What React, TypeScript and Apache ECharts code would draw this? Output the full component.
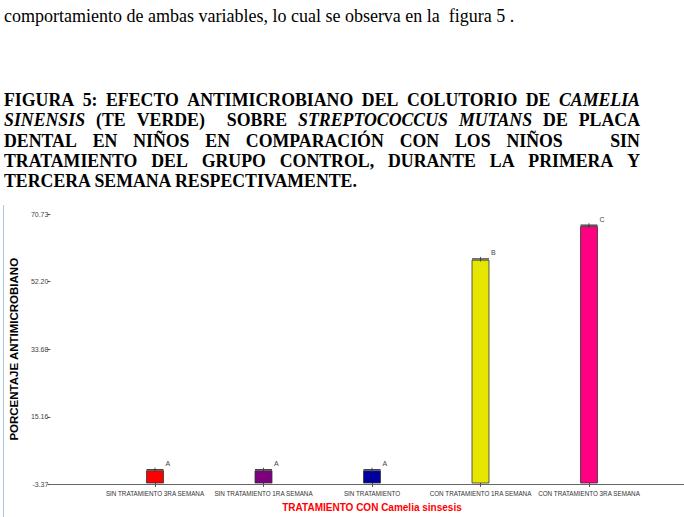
import React, { useEffect, useRef } from "react";
import * as echarts from "echarts";

const categories = [
  "SIN TRATAMIENTO 3RA SEMANA",
  "SIN TRATAMIENTO 1RA SEMANA",
  "SIN TRATAMIENTO",
  "CON TRATAMIENTO 1RA SEMANA",
  "CON TRATAMIENTO 3RA SEMANA",
];
const values = [0, 0, 0, 58.0, 67.3];
const errors = [0.3, 0.3, 0.3, 0.35, 0.35];
const letters = ["A", "A", "A", "B", "C"];
const barColors = ["#FF0000", "#7D007D", "#00009E", "#E6E600", "#FF0080"];
const yTickLabels = ["-3.37", "15.16", "33.68", "52.20", "70.73"];
const yMin = -3.37;
const yMax = 70.73;
const yInterval = (yMax - yMin) / 4;

type Seg = { t: string; i?: boolean };
const headingLines: Seg[][] = [
  [
    { t: "FIGURA" }, { t: "5:" }, { t: "EFECTO" }, { t: "ANTIMICROBIANO" }, { t: "DEL" },
    { t: "COLUTORIO" }, { t: "DE" }, { t: "CAMELIA", i: true },
  ],
  [
    { t: "SINENSIS", i: true }, { t: "(TE" }, { t: "VERDE)" }, { t: "" }, { t: "SOBRE" },
    { t: "STREPTOCOCCUS", i: true }, { t: "MUTANS", i: true }, { t: "DE" }, { t: "PLACA" },
  ],
  [
    { t: "DENTAL" }, { t: "EN" }, { t: "NIÑOS" }, { t: "EN" }, { t: "COMPARACIÓN" },
    { t: "CON" }, { t: "LOS" }, { t: "NIÑOS" }, { t: "" }, { t: "" }, { t: "SIN" },
  ],
  [
    { t: "TRATAMIENTO" }, { t: "DEL" }, { t: "GRUPO" }, { t: "CONTROL," }, { t: "DURANTE" },
    { t: "LA" }, { t: "PRIMERA" }, { t: "Y" },
  ],
];
const lastLine = "TERCERA SEMANA RESPECTIVAMENTE.";
const introLine = "comportamiento de ambas variables, lo cual se observa en la  figura 5 .";

export default function App() {
  const ref = useRef<HTMLDivElement>(null);
  useEffect(() => {
    document.body.style.margin = "0";
    if (!ref.current) return;
    const chart = echarts.init(ref.current, null, { renderer: "svg" });
    const top = 214;
    const bottom = 517 - 484.5;
    chart.setOption({
      animation: false,
      grid: [
        { left: 45, right: 0, top, bottom },
        { left: 100.75, width: 542.5, top, bottom },
      ],
      xAxis: [
        {
          gridIndex: 0,
          type: "value",
          min: 0,
          max: 1,
          axisLine: { show: true, onZero: false, lineStyle: { color: "#666", width: 1 } },
          axisTick: { show: false },
          axisLabel: { show: false },
          splitLine: { show: false },
        },
        {
          gridIndex: 1,
          type: "category",
          data: categories,
          axisLine: { show: false, onZero: false },
          axisTick: { show: true, alignWithLabel: true, length: 4, lineStyle: { color: "#555" } },
          axisLabel: {
            interval: 0,
            margin: 7,
            fontSize: 6.3,
            fontFamily: "Arial, 'Liberation Sans', sans-serif",
            color: "#333",
          },
          name: "TRATAMIENTO CON Camelia sinsesis",
          nameLocation: "middle",
          nameGap: 19,
          nameTextStyle: {
            color: "#FF0000",
            fontWeight: "bold",
            fontSize: 10,
            fontFamily: "Arial, 'Liberation Sans', sans-serif",
          },
        },
      ],
      yAxis: [
        {
          gridIndex: 0,
          type: "value",
          min: yMin,
          max: yMax,
          interval: yInterval,
          axisLine: { show: false },
          axisTick: { show: true, length: 3, lineStyle: { color: "#555" } },
          splitLine: { show: false },
          axisLabel: {
            margin: 2,
            fontSize: 7,
            fontFamily: "Arial, 'Liberation Sans', sans-serif",
            color: "#444",
            formatter: (v: number) => {
              let best = yTickLabels[0];
              let d = Infinity;
              for (const s of yTickLabels) {
                const dd = Math.abs(parseFloat(s) - v);
                if (dd < d) {
                  d = dd;
                  best = s;
                }
              }
              return best;
            },
          },
          name: "PORCENTAJE ANTIMICROBIANO",
          nameLocation: "middle",
          nameGap: 25,
          nameTextStyle: {
            color: "#000",
            fontWeight: "bold",
            fontSize: 11.5,
            fontFamily: "Arial, 'Liberation Sans', sans-serif",
          },
        },
        {
          gridIndex: 1,
          type: "value",
          min: yMin,
          max: yMax,
          show: false,
        },
      ],
      series: [
        {
          type: "custom",
          xAxisIndex: 1,
          yAxisIndex: 1,
          data: categories.map((c, i) => [i, values[i], errors[i]]),
          encode: { x: 0, y: 1 },
          renderItem: (params: any, api: any) => {
            const i = api.value(0);
            const v = api.value(1);
            const e = api.value(2);
            const base = api.coord([i, yMin]);
            const tp = api.coord([i, v]);
            const hi = api.coord([i, v + e]);
            const lo = api.coord([i, v - e]);
            const w = 17;
            return {
              type: "group",
              children: [
                {
                  type: "rect",
                  shape: { x: base[0] - w / 2, y: tp[1], width: w, height: base[1] - tp[1] },
                  style: { fill: barColors[i], stroke: "#333", lineWidth: 0.8 },
                },
                {
                  type: "line",
                  shape: { x1: tp[0] - w / 2, y1: hi[1], x2: tp[0] + w / 2, y2: hi[1] },
                  style: { stroke: "#444", lineWidth: 1.4 },
                },
                {
                  type: "line",
                  shape: { x1: tp[0], y1: lo[1], x2: tp[0], y2: hi[1] - 2 },
                  style: { stroke: "#333", lineWidth: 0.8 },
                },
                {
                  type: "text",
                  style: {
                    text: letters[i],
                    x: tp[0] + w / 2 + 2,
                    y: hi[1] - 6,
                    fill: "#444",
                    fontSize: 7,
                    fontFamily: "Arial, 'Liberation Sans', sans-serif",
                    align: "left",
                    verticalAlign: "middle",
                  },
                },
              ],
            };
          },
        },
      ],
    });
    return () => chart.dispose();
  }, []);

  const serif = "'Liberation Serif', 'Times New Roman', serif";
  return (
    <div style={{ position: "fixed", left: 0, top: 0, width: 684, height: 517, background: "#fff", overflow: "hidden" }}>
      <div ref={ref} style={{ position: "absolute", left: 0, top: 0, width: 684, height: 517 }} />
      <div style={{ position: "absolute", left: 3, top: 205, width: 1, height: 312, background: "#A9C8E8" }} />
      <div
        style={{
          position: "absolute",
          left: 4,
          top: 5,
          fontFamily: serif,
          fontSize: 18,
          lineHeight: "22px",
          color: "#000",
          whiteSpace: "pre",
        }}
      >
        {introLine}
      </div>
      <div
        style={{
          position: "absolute",
          left: 4,
          top: 90,
          width: 636,
          fontFamily: serif,
          fontSize: 17.8,
          fontWeight: "bold",
          lineHeight: "20.3px",
          color: "#000",
        }}
      >
        {headingLines.map((ln, k) => (
          <div key={k} style={{ display: "flex", justifyContent: "space-between", whiteSpace: "nowrap" }}>
            {ln.map((s, j) => (
              <span key={j} style={{ fontStyle: s.i ? "italic" : "normal" }}>
                {s.t}
              </span>
            ))}
          </div>
        ))}
        <div style={{ whiteSpace: "nowrap" }}>{lastLine}</div>
      </div>
    </div>
  );
}
